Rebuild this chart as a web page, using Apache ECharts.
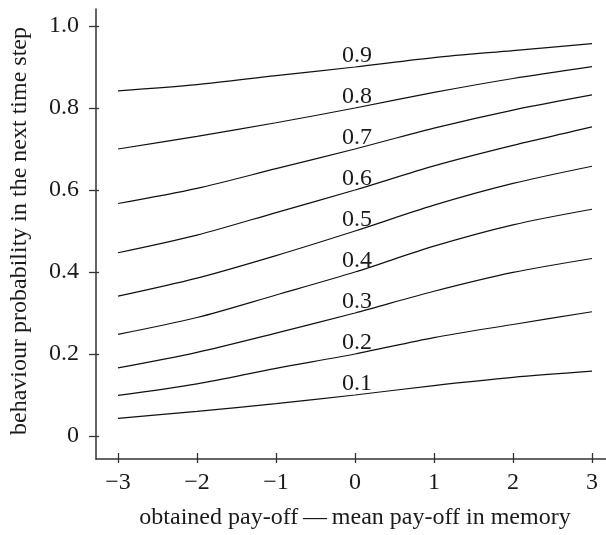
<!DOCTYPE html>
<html>
<head>
<meta charset="utf-8">
<script src="https://cdn.jsdelivr.net/npm/echarts@6/dist/echarts.min.js"></script>
<style>
  html, body { margin: 0; padding: 0; background: #fff; }
  #chart { width: 606px; height: 535px; }
</style>
</head>
<body>
<div id="chart"></div>
<script>
// x positions (obtained pay-off minus mean pay-off in memory)
const xValues = [-3, -2, -1, 0, 1, 2, 3];
// curve names = probability at x = 0
const curveNames = ['0.1', '0.2', '0.3', '0.4', '0.5', '0.6', '0.7', '0.8', '0.9'];
// behaviour probability in the next time step
const p01 = [0.043, 0.060, 0.079, 0.100, 0.123, 0.143, 0.158];
const p02 = [0.099, 0.127, 0.165, 0.200, 0.240, 0.272, 0.303];
const p03 = [0.166, 0.204, 0.251, 0.300, 0.353, 0.399, 0.433];
const p04 = [0.248, 0.289, 0.344, 0.400, 0.463, 0.515, 0.553];
const p05 = [0.341, 0.385, 0.440, 0.500, 0.563, 0.616, 0.658];
const p06 = [0.447, 0.490, 0.545, 0.600, 0.659, 0.709, 0.754];
const p07 = [0.567, 0.604, 0.652, 0.700, 0.751, 0.795, 0.832];
const p08 = [0.700, 0.731, 0.764, 0.800, 0.838, 0.872, 0.901];
const p09 = [0.842, 0.857, 0.879, 0.900, 0.923, 0.940, 0.957];
const curves = [p01, p02, p03, p04, p05, p06, p07, p08, p09];

const FONT = 'Liberation Serif';
const AXIS_COLOR = '#333';
const TEXT_COLOR = '#1a1a1a';

const chart = echarts.init(document.getElementById('chart'));

const lineSeries = curves.map((vals, i) => ({
    name: curveNames[i],
    type: 'line',
    xAxisIndex: 0, yAxisIndex: 0,
    smooth: 0.3,
    symbol: 'circle', symbolSize: 0, showSymbol: true,
    lineStyle: { color: '#111', width: 1.2 },
    itemStyle: { color: '#111' },
    emphasis: { disabled: true },
    data: xValues.map((x, j) => x === 0 ? {
        value: [x, vals[j]],
        label: {
            show: true, position: 'top', distance: 0, offset: [2, 1],
            formatter: curveNames[i],
            fontFamily: FONT, fontSize: 24, color: TEXT_COLOR
        }
    } : [x, vals[j]])
}));

chart.setOption({
    animation: false,
    backgroundColor: '#fff',
    grid: [
        { left: 115, top: 26, width: 477, height: 416 },
        // frame grid, only used to draw the longer axis lines
        { left: 96, top: 9, width: 515, height: 450 }
    ],
    xAxis: [{
        gridIndex: 0, type: 'value', min: -3, max: 3, interval: 1, offset: 17,
        axisLine: { show: false, onZero: false },
        axisTick: { show: true, length: 10, lineStyle: { color: AXIS_COLOR, width: 1.3 } },
        axisLabel: {
            margin: 18, fontFamily: FONT, fontSize: 24, color: TEXT_COLOR,
            formatter: v => String(v).replace('-', '\u2212')
        },
        splitLine: { show: false },
        name: 'obtained pay-off\u2009\u2014\u2009mean pay-off in memory',
        nameLocation: 'middle', nameGap: 53,
        nameTextStyle: { fontFamily: FONT, fontSize: 24, color: TEXT_COLOR }
    }, {
        gridIndex: 1, type: 'value', min: 0, max: 1,
        axisLine: { show: true, onZero: false, lineStyle: { color: AXIS_COLOR, width: 1.5 } },
        axisTick: { show: false }, axisLabel: { show: false }, splitLine: { show: false }
    }],
    yAxis: [{
        gridIndex: 0, type: 'value', min: 0, max: 1, interval: 0.2, offset: 19,
        axisLine: { show: false, onZero: false },
        axisTick: { show: true, length: 10, lineStyle: { color: AXIS_COLOR, width: 1.3 } },
        axisLabel: {
            margin: 20, fontFamily: FONT, fontSize: 24, color: TEXT_COLOR,
            formatter: v => v === 0 ? '0' : v.toFixed(1)
        },
        splitLine: { show: false },
        name: 'behaviour probability in the next time step',
        nameLocation: 'middle', nameGap: 67,
        nameTextStyle: { fontFamily: FONT, fontSize: 24, color: TEXT_COLOR }
    }, {
        gridIndex: 1, type: 'value', min: 0, max: 1,
        axisLine: { show: true, onZero: false, lineStyle: { color: AXIS_COLOR, width: 1.5 } },
        axisTick: { show: false }, axisLabel: { show: false }, splitLine: { show: false }
    }],
    series: lineSeries
});

window.addEventListener('resize', () => chart.resize());
</script>
</body>
</html>
